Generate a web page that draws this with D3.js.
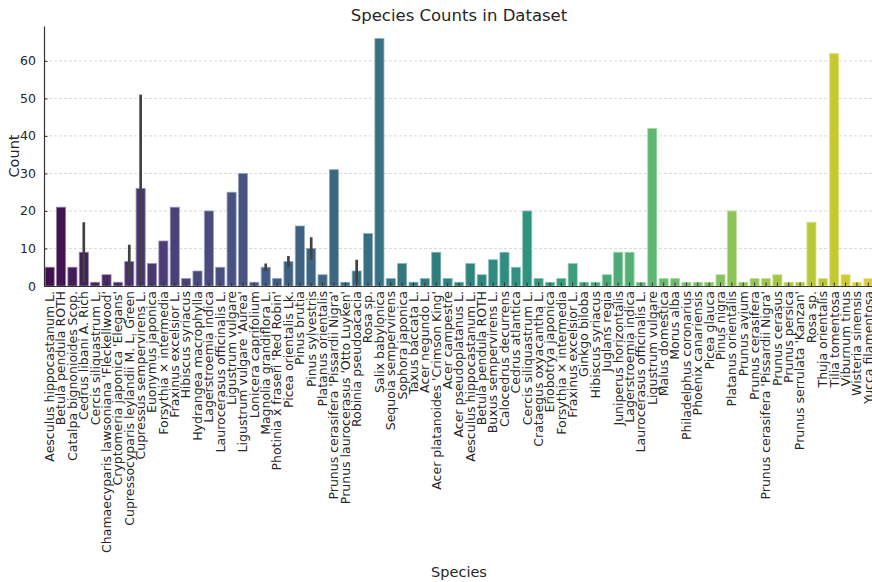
<!DOCTYPE html>
<html>
<head>
<meta charset="utf-8">
<script src="https://cdn.jsdelivr.net/npm/d3@7"></script>
<style>
  body { margin: 0; background: #fff; }
  svg { display: block; }
  text { font-family: "DejaVu Sans", sans-serif; fill: #262626; }
</style>
</head>
<body>
<svg id="chart" width="872" height="582"></svg>
<script>
// Species names as they appear in the dataset (some names occur twice as separate categories)
const species = [
  "Aesculus hippocastanum L.", "Betula pendula ROTH", "Catalpa bignonioides Scop.", "Cedrus libani A. Rich",
  "Cercis siliquastrum L.", "Chamaecyparis lawsoniana 'Fleckellwood'", "Cryptomeria japonica 'Elegans'",
  "Cupressocyparis leylandii M. L. Green", "Cupressus sempervirens L.", "Euonymus japonica",
  "Forsythia \u00d7 intermedia", "Fraxinus excelsior L.", "Hibiscus syriacus", "Hydrangea macrophylla",
  "Lagerstroemia indica", "Laurocerasus officinalis L.", "Ligustrum vulgare", "Ligustrum vulgare 'Aurea'",
  "Lonicera caprifolium", "Magnolia grandiflora L.", "Photinia x fraseri 'Red Robin'", "Picea orientalis Lk.",
  "Pinus brutia", "Pinus sylvestris", "Platanus orientalis", "Prunus cerasifera 'Pissardii Nigra'",
  "Prunus laurocerasus 'Otto Luyken'", "Robinia pseudoacacia", "Rosa sp.", "Salix babylonica",
  "Sequoia sempervirens", "Sophora japonica", "Taxus baccata L.", "Acer negundo L.",
  "Acer platanoides 'Crimson King'", "Acer campestre", "Acer pseudoplatanus L.", "Aesculus hippocastanum L.",
  "Betula pendula ROTH", "Buxus sempervirens L.", "Calocedrus decurrens", "Cedrus atlantica",
  "Cercis siliquastrum L.", "Crataegus oxyacantha L.", "Eriobotrya japonica", "Forsythia \u00d7 intermedia",
  "Fraxinus excelsior L.", "Ginkgo biloba", "Hibiscus syriacus", "Juglans regia",
  "Juniperus horizontalis", "Lagerstroemia indica", "Laurocerasus officinalis L.", "Ligustrum vulgare",
  "Malus domestica", "Morus alba", "Philadelphus coronarius", "Phoenix canariensis",
  "Picea glauca", "Pinus nigra", "Platanus orientalis", "Prunus avium",
  "Prunus cerasifera", "Prunus cerasifera 'Pissardii Nigra'", "Prunus cerasus", "Prunus persica",
  "Prunus serrulata 'Kanzan'", "Rosa sp.", "Thuja orientalis", "Tilia tomentosa",
  "Viburnum tinus", "Wisteria sinensis", "Yucca filamentosa"
];

// Mean count per species
const counts = [
  5, 21, 5, 9, 1, 3, 1, 6.5, 26, 6,
  12, 21, 2, 4, 20, 5, 25, 30, 1, 5,
  2, 6.5, 16, 10, 3, 31, 1, 4, 14, 66,
  2, 6, 1, 2, 9, 2, 1, 6, 3, 7,
  9, 5, 20, 2, 1, 2, 6, 1, 1, 3,
  9, 9, 1, 42, 2, 2, 1, 1, 1, 3,
  20, 1, 2, 2, 3, 1, 1, 17, 2, 62,
  3, 1, 2
];

// Confidence interval bounds (only where a species has several records)
const ciLow = counts.map(() => null);
const ciHigh = counts.map(() => null);
[[3, 1, 17], [7, 2, 11], [8, 1, 51], [19, 4, 6], [21, 5, 8], [23, 7, 13], [27, 1, 7]]
  .forEach(([i, lo, hi]) => { ciLow[i] = lo; ciHigh[i] = hi; });

const yTicks = [0, 10, 20, 30, 40, 50, 60];
const yMax = 69.3;

const svg = d3.select("#chart");
const margin = { left: 44, right: 874, top: 26, bottom: 286 };

const x = d3.scaleBand()
  .domain(d3.range(species.length))
  .range([margin.left, margin.right])
  .paddingInner(0.2)
  .paddingOuter(0.1);

const y = d3.scaleLinear().domain([0, yMax]).range([margin.bottom, margin.top]);

// viridis sampled like seaborn, then desaturated to 75%
const color = i => {
  const c = d3.hsl(d3.interpolateViridis((i + 1) / (species.length + 1)));
  c.s *= 0.75;
  return c.formatHex();
};

// horizontal grid
svg.append("g")
  .selectAll("line")
  .data(yTicks.filter(t => t > 0))
  .join("line")
  .attr("x1", margin.left).attr("x2", margin.right)
  .attr("y1", d => y(d)).attr("y2", d => y(d))
  .attr("stroke", "#cfcfcf")
  .attr("stroke-width", 0.8)
  .attr("stroke-dasharray", "3,2");

// bars
svg.append("g")
  .selectAll("rect")
  .data(counts)
  .join("rect")
  .attr("x", (d, i) => x(i))
  .attr("width", x.bandwidth())
  .attr("y", d => y(d))
  .attr("height", d => y(0) - y(d))
  .attr("fill", (d, i) => color(i))
  .attr("stroke", (d, i) => d3.interpolateRgb(color(i), "#ffffff")(0.45))
  .attr("stroke-width", 0.8);

// error bars
svg.append("g")
  .selectAll("line")
  .data(d3.range(counts.length).filter(i => ciLow[i] !== null))
  .join("line")
  .attr("x1", i => x(i) + x.bandwidth() / 2)
  .attr("x2", i => x(i) + x.bandwidth() / 2)
  .attr("y1", i => y(ciLow[i]))
  .attr("y2", i => y(ciHigh[i]))
  .attr("stroke", "#424242")
  .attr("stroke-width", 2.7);

// x axis
const xAxis = d3.axisBottom(x)
  .tickFormat(i => species[i])
  .tickSizeInner(-3.5)
  .tickSizeOuter(0)
  .tickPadding(6);
const gx = svg.append("g")
  .attr("transform", `translate(0,${margin.bottom})`)
  .call(xAxis);
gx.select(".domain").attr("stroke", "#333").attr("stroke-width", 1.2);
gx.selectAll(".tick line").attr("stroke", "#333").attr("stroke-width", 1);
gx.selectAll(".tick text")
  .attr("transform", "rotate(-90)")
  .attr("text-anchor", "end")
  .attr("x", -5)
  .attr("y", 0)
  .attr("dy", "0.35em")
  .style("font-size", "12.5px")
  .style("font-family", "'DejaVu Sans', sans-serif")
  .attr("fill", "#262626");

// y axis
const yAxis = d3.axisLeft(y)
  .tickValues(yTicks)
  .tickSizeInner(-3.5)
  .tickSizeOuter(0)
  .tickPadding(8);
const gy = svg.append("g")
  .attr("transform", `translate(${margin.left},0)`)
  .call(yAxis);
gy.select(".domain").attr("stroke", "#333").attr("stroke-width", 1.2);
gy.selectAll(".tick line").attr("stroke", "#333");
gy.selectAll(".tick text")
  .style("font-size", "12.5px")
  .style("font-family", "'DejaVu Sans', sans-serif")
  .attr("fill", "#262626");

// titles
svg.append("text")
  .attr("x", (margin.left + margin.right) / 2)
  .attr("y", 21)
  .attr("text-anchor", "middle")
  .style("font-size", "16.5px")
  .text("Species Counts in Dataset");

svg.append("text")
  .attr("x", (margin.left + margin.right) / 2)
  .attr("y", 577)
  .attr("text-anchor", "middle")
  .style("font-size", "14.5px")
  .text("Species");

svg.append("text")
  .attr("transform", `translate(19,${(margin.top + margin.bottom) / 2}) rotate(-90)`)
  .attr("text-anchor", "middle")
  .style("font-size", "14.5px")
  .text("Count");
</script>
</body>
</html>
